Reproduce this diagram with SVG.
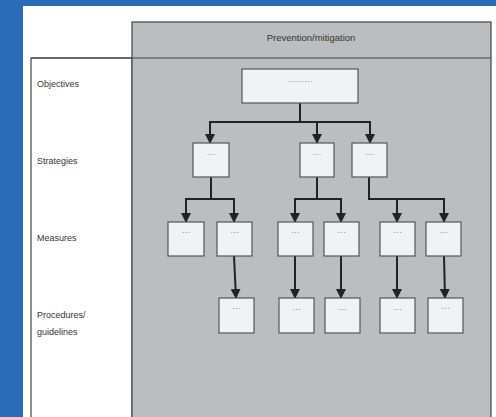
<svg xmlns="http://www.w3.org/2000/svg" width="496" height="417" viewBox="0 0 496 417">
<style>
.lbl{font-family:"Liberation Sans",Arial,sans-serif;font-size:9px;fill:#333}
.hdr{font-family:"Liberation Sans",Arial,sans-serif;font-size:9.5px;fill:#333;text-anchor:middle}
.box{fill:#f1f2f4;stroke:#555;stroke-width:1.2}
.dots{font-family:"Liberation Sans",Arial,sans-serif;font-size:8.5px;fill:#7a8290;text-anchor:middle}
.con{fill:none;stroke:#222;stroke-width:2}
</style>
<defs>
<marker id="arr" markerWidth="10" markerHeight="10" refX="9" refY="5" orient="auto" markerUnits="userSpaceOnUse" viewBox="0 0 10 10">
<path d="M0,0 L10,5 L0,10 Z" fill="#222"/>
</marker>
</defs>
<rect x="0" y="0" width="496" height="417" fill="#2a6cb6"/>
<rect x="23" y="6" width="473" height="411" fill="#ffffff"/>
<g id="frame">
<rect x="31" y="58" width="101" height="370" fill="#ffffff" stroke="#444" stroke-width="1.2"/>
<rect x="132" y="22" width="359" height="400" fill="#bcbdc0" stroke="#444" stroke-width="1.2"/>
<line x1="31" y1="58" x2="491" y2="58" stroke="#444" stroke-width="1.2"/>
<text class="hdr" x="311" y="41">Prevention/mitigation</text>
</g>
<g id="labels">
<text class="lbl" x="37" y="87">Objectives</text>
<text class="lbl" x="37" y="164">Strategies</text>
<text class="lbl" x="37" y="241">Measures</text>
<text class="lbl" x="37" y="318">Procedures/</text>
<text class="lbl" x="37" y="335">guidelines</text>
</g>
<g id="connectors">
<polyline class="con" points="300,103 300,122"/>
<polyline class="con" points="210,122 370,122 370,143" marker-end="url(#arr)"/>
<line class="con" x1="210" y1="121" x2="210" y2="143" marker-end="url(#arr)"/>
<line class="con" x1="317" y1="122" x2="317" y2="143" marker-end="url(#arr)"/>
<polyline class="con" points="211,177 211,199"/>
<polyline class="con" points="186,199 234,199 234,222" marker-end="url(#arr)"/>
<line class="con" x1="186" y1="198" x2="186" y2="222" marker-end="url(#arr)"/>
<polyline class="con" points="317,177 317,199"/>
<polyline class="con" points="295,199 341,199 341,222" marker-end="url(#arr)"/>
<line class="con" x1="295" y1="198" x2="295" y2="222" marker-end="url(#arr)"/>
<polyline class="con" points="369,177 369,199 444,199 444,222" marker-end="url(#arr)"/>
<line class="con" x1="397" y1="199" x2="397" y2="222" marker-end="url(#arr)"/>
<line class="con" x1="234" y1="256" x2="236" y2="298" marker-end="url(#arr)"/>
<line class="con" x1="295" y1="256" x2="295" y2="298" marker-end="url(#arr)"/>
<line class="con" x1="341" y1="256" x2="341" y2="298" marker-end="url(#arr)"/>
<line class="con" x1="397" y1="256" x2="397" y2="298" marker-end="url(#arr)"/>
<line class="con" x1="444" y1="256" x2="445" y2="298" marker-end="url(#arr)"/>
</g>
<g id="objective"><rect class="box" x="242" y="69" width="116" height="34"/><text class="dots" x="300" y="84">·········</text></g>
<g id="strategy1"><rect class="box" x="193" y="143" width="36" height="34"/><text class="dots" x="211" y="157">···</text></g>
<g id="strategy2"><rect class="box" x="300" y="143" width="34" height="34"/><text class="dots" x="317" y="157">···</text></g>
<g id="strategy3"><rect class="box" x="352" y="143" width="35" height="34"/><text class="dots" x="369.5" y="157">···</text></g>
<g id="measure1"><rect class="box" x="168" y="222" width="36" height="34"/><text class="dots" x="186" y="235">···</text></g>
<g id="measure2"><rect class="box" x="217" y="222" width="35" height="34"/><text class="dots" x="234.5" y="235">···</text></g>
<g id="measure3"><rect class="box" x="278" y="222" width="35" height="34"/><text class="dots" x="295.5" y="235">···</text></g>
<g id="measure4"><rect class="box" x="324" y="222" width="35" height="34"/><text class="dots" x="341.5" y="235">···</text></g>
<g id="measure5"><rect class="box" x="380" y="222" width="35" height="34"/><text class="dots" x="397.5" y="235">···</text></g>
<g id="measure6"><rect class="box" x="426" y="222" width="35" height="34"/><text class="dots" x="443.5" y="235">···</text></g>
<g id="procedure1"><rect class="box" x="219" y="298" width="35" height="35"/><text class="dots" x="236.5" y="311">···</text></g>
<g id="procedure2"><rect class="box" x="279" y="298" width="35" height="35"/><text class="dots" x="296.5" y="312">···</text></g>
<g id="procedure3"><rect class="box" x="325" y="298" width="35" height="35"/><text class="dots" x="342.5" y="312">···</text></g>
<g id="procedure4"><rect class="box" x="380" y="298" width="35" height="35"/><text class="dots" x="397.5" y="312">···</text></g>
<g id="procedure5"><rect class="box" x="428" y="298" width="35" height="35"/><text class="dots" x="445.5" y="311">···</text></g>
</svg>
